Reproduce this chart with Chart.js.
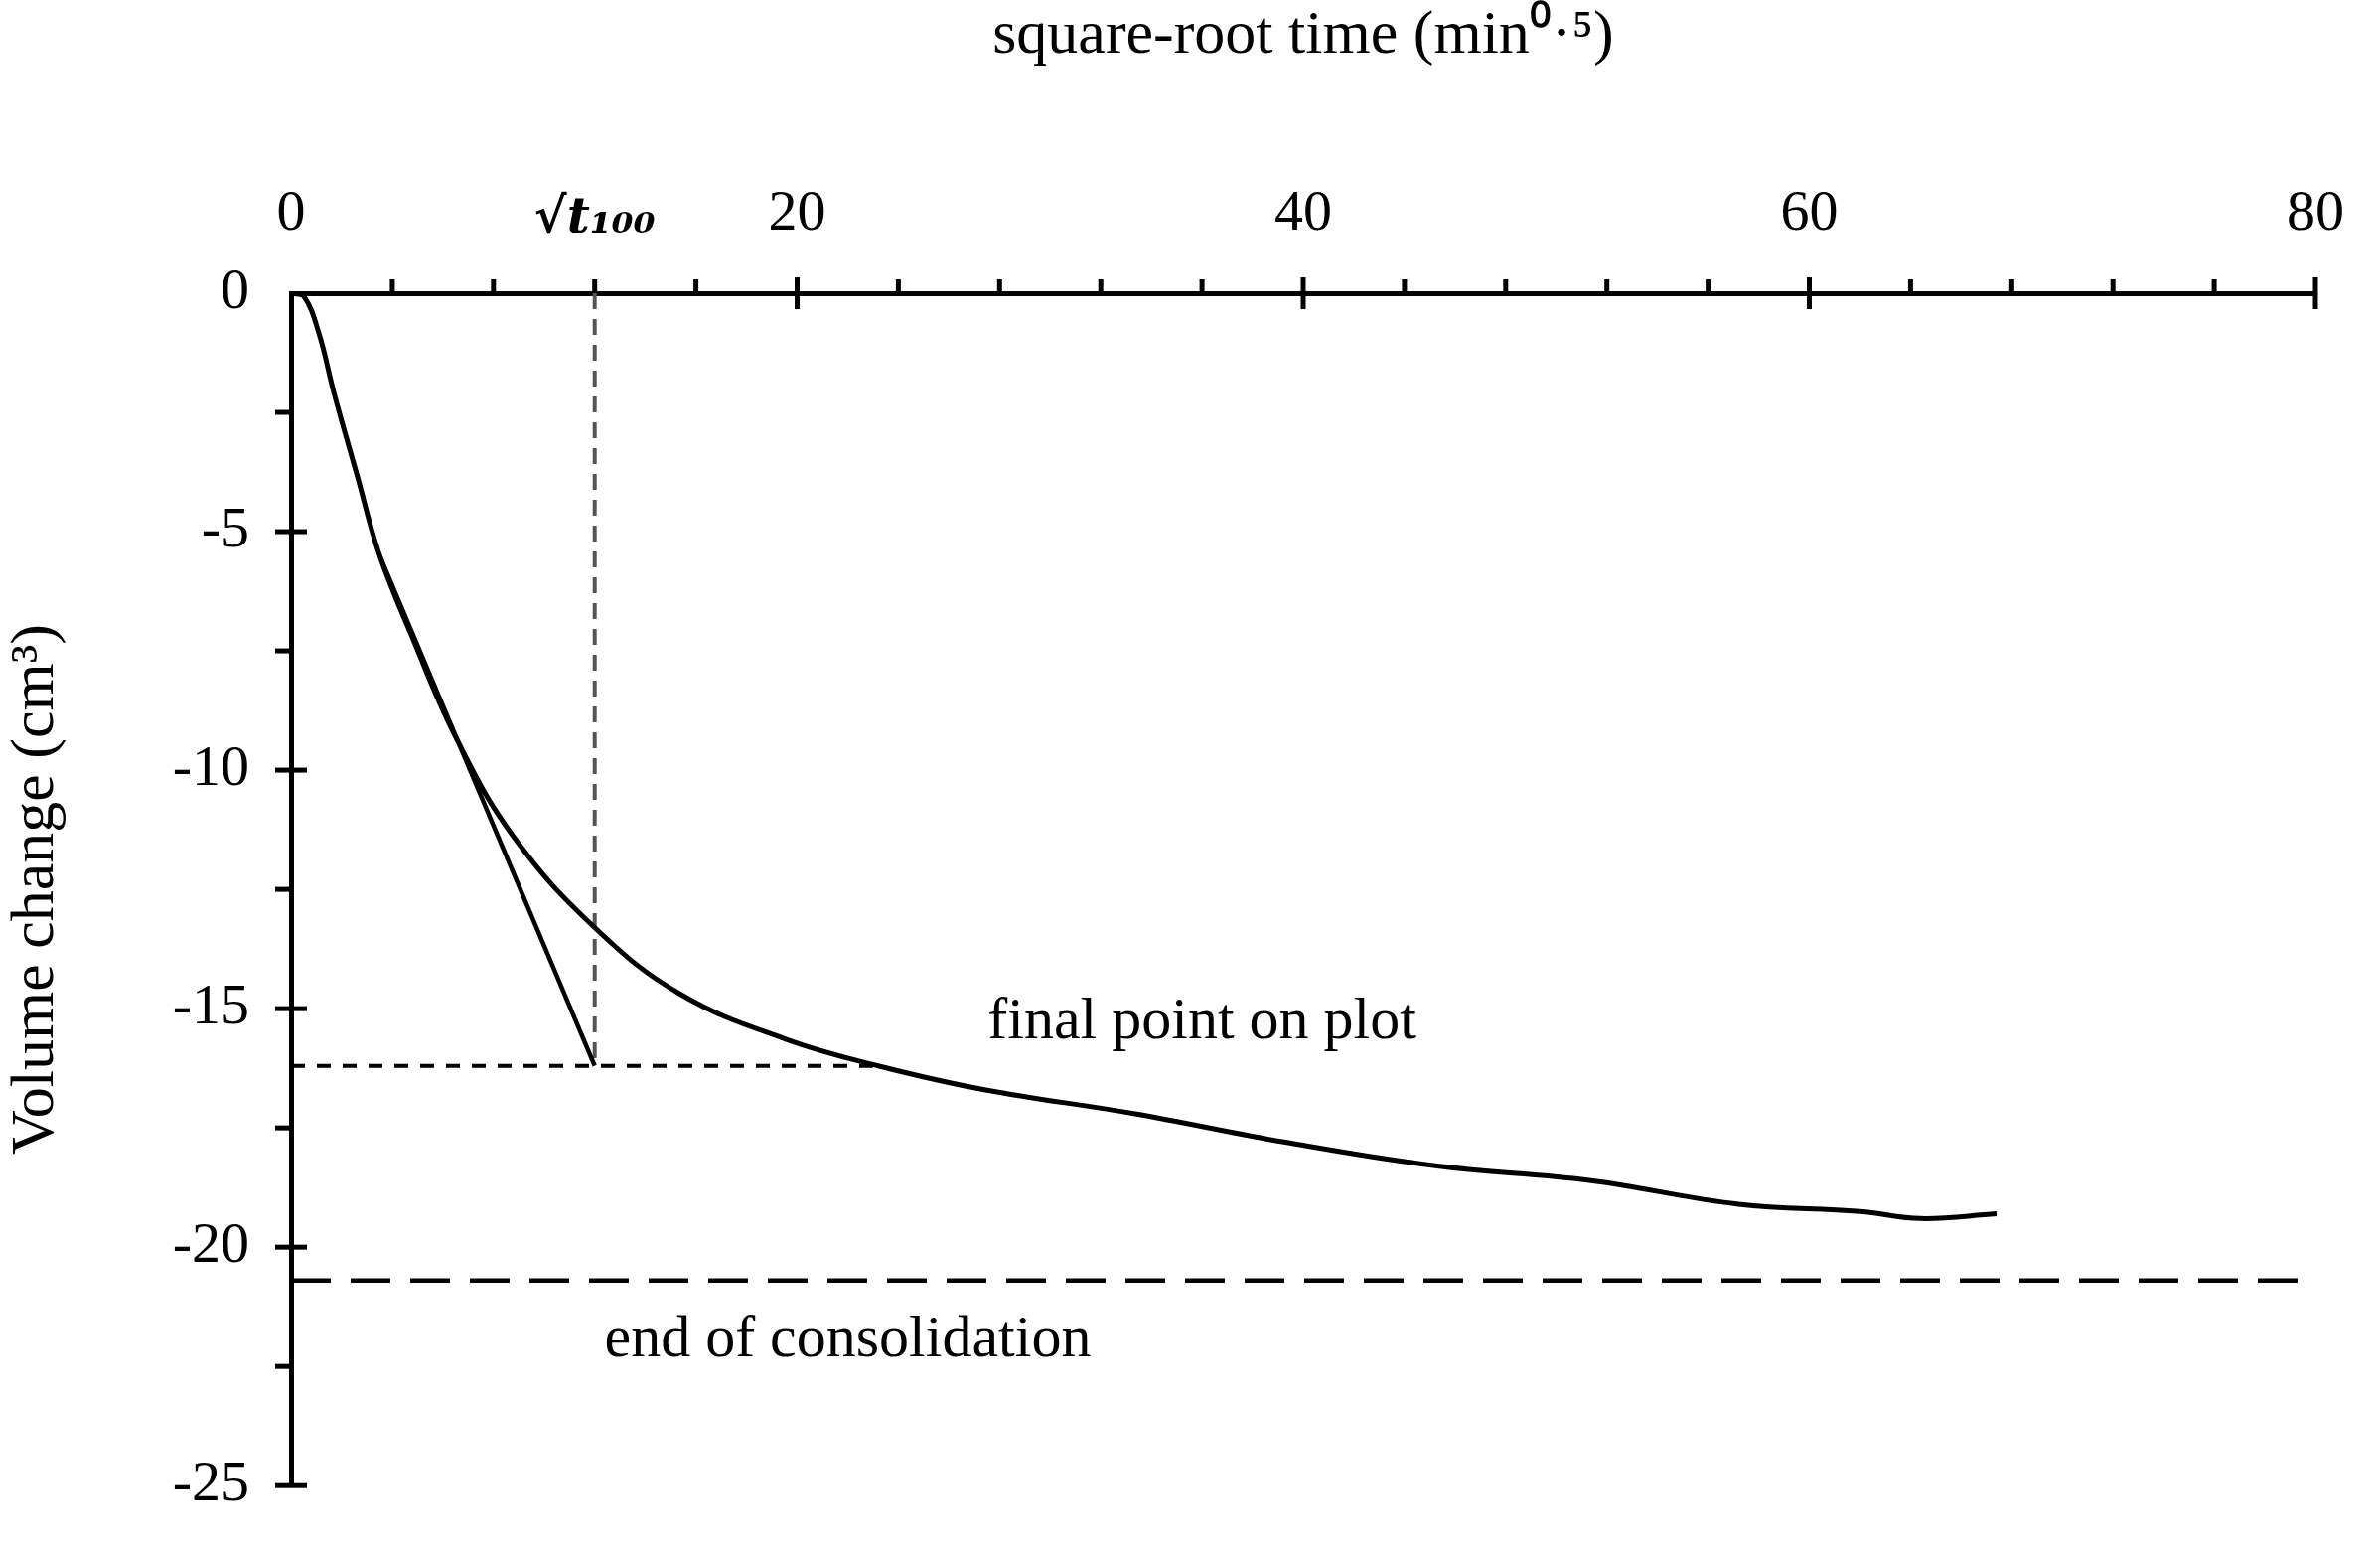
<!DOCTYPE html>
<html>
<head>
<meta charset="utf-8">
<script src="https://cdn.jsdelivr.net/npm/chart.js@4/dist/chart.umd.min.js"></script>
<style>
html,body{margin:0;padding:0;background:#fff;}
#wrap{width:2396px;height:1564px;}
</style>
</head>
<body>
<div id="wrap"><canvas id="chart" width="2396" height="1564"></canvas></div>
<script>
// DATA
const curveX = [0,0.5,1.1,1.7,2.6,3.5,4.7,6.5,8.8,12,15.4,19.6,23.2,27.4,33.3,39.3,45.3,51.3,57.2,62,64.4,67.4];
const curveY = [0,-0.06,-0.84,-2.1,-3.8,-5.5,-7.1,-9.3,-11.4,-13.3,-14.7,-15.65,-16.2,-16.7,-17.2,-17.8,-18.3,-18.6,-19.1,-19.25,-19.4,-19.3];
const tangentX = [3.5,12];
const tangentY = [-5.5,-16.2];
const t100X = [12,12];
const t100Y = [0,-16.2];
const finalX = [0,23];
const finalY = [-16.2,-16.2];
const endX = [0,79.6];
const endY = [-20.7,-20.7];
const xMajor = [0,20,40,60,80];
const yTicks = [0,-5,-10,-15,-20,-25];
const notes = [
  {text:"final point on plot", x:36, y:-15.3},
  {text:"end of consolidation", x:22, y:-21.95}
];

const pts = (xs,ys)=>xs.map((x,i)=>({x:x,y:ys[i]}));
const FONT = "Liberation Serif";

// ticks crossing the axis lines + annotation text
const axisPlugin = {
  id:"axisPlugin",
  afterDraw(chart){
    const c = chart.ctx, xs = chart.scales.x, ys = chart.scales.y;
    const top = ys.getPixelForValue(0), left = xs.getPixelForValue(0);
    c.save();
    c.strokeStyle="#000"; c.lineWidth=5;
    for(let v=4; v<=80; v+=4){
      const px = xs.getPixelForValue(v);
      const major = v%20===0;
      c.beginPath();
      c.moveTo(px, top - (major?16:14));
      c.lineTo(px, top + (major?16:0));
      c.stroke();
    }
    for(let v=-2.5; v>=-25; v-=2.5){
      const py = ys.getPixelForValue(v);
      const major = v%5===0;
      c.beginPath();
      c.moveTo(left - 16, py);
      c.lineTo(left + (major?16:0), py);
      c.stroke();
    }
    c.fillStyle="#000";
    c.font = "60px '"+FONT+"'";
    c.textAlign="center"; c.textBaseline="middle";
    notes.forEach(n=>c.fillText(n.text, xs.getPixelForValue(n.x), ys.getPixelForValue(n.y)));
    c.restore();
  }
};

new Chart(document.getElementById("chart"),{
  type:"line",
  data:{datasets:[
    {data:pts(curveX,curveY), borderColor:"#000", borderWidth:5, tension:0.4, pointRadius:0},
    {data:pts(tangentX,tangentY), borderColor:"#000", borderWidth:4.5, pointRadius:0},
    {data:pts(t100X,t100Y), borderColor:"#555", borderWidth:4, borderDash:[16,10], pointRadius:0},
    {data:pts(finalX,finalY), borderColor:"#000", borderWidth:4, borderDash:[14,12], pointRadius:0},
    {data:pts(endX,endY), borderColor:"#000", borderWidth:4.5, borderDash:[40,20], pointRadius:0}
  ]},
  options:{
    responsive:false, animation:false,
    layout:{padding:{left:0,right:56,top:0,bottom:44}},
    plugins:{legend:{display:false}, tooltip:{enabled:false}},
    scales:{
      x:{
        type:"linear", position:"top", min:0, max:80,
        afterFit:s=>{s.height=295;},
        border:{display:true,color:"#000",width:5},
        grid:{display:false},
        afterBuildTicks:s=>{s.ticks=[0,12,20,40,60,80].map(v=>({value:v}));},
        ticks:{
          color:"#000", padding:36,
          font:ctx=>ctx.tick && ctx.tick.value===12 ? {family:"DejaVu Serif",size:50,weight:"bold",style:"italic"} : {family:FONT,size:58},
          callback:v=> v===12 ? "√t₁₀₀" : (xMajor.includes(v)? String(v) : "")
        },
        title:{display:true,text:"square-root time (min⁰·⁵)",color:"#000",font:{family:FONT,size:62},padding:{top:0,bottom:10}}
      },
      y:{
        type:"linear", min:-25, max:0,
        afterFit:s=>{s.width=293;},
        border:{display:true,color:"#000",width:5},
        grid:{display:false},
        afterBuildTicks:s=>{s.ticks=yTicks.map(v=>({value:v}));},
        ticks:{color:"#000",padding:34,font:{family:FONT,size:58}},
        title:{display:true,text:"Volume change (cm³)",color:"#000",font:{family:FONT,size:62},padding:{top:0,bottom:20}}
      }
    }
  },
  plugins:[axisPlugin]
});
</script>
</body>
</html>
